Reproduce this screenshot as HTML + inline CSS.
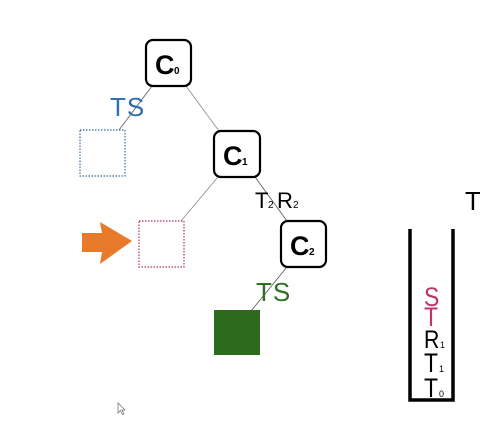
<!DOCTYPE html>
<html><head><meta charset="utf-8"><style>
html,body{margin:0;padding:0;background:#fff;}
svg{display:block;}
text{font-family:"Liberation Sans",sans-serif;}
</style></head><body>
<svg width="480" height="442" viewBox="0 0 480 442">
<g stroke-width="0.8">
<line x1="152" y1="86" x2="119" y2="130" stroke="#555"/>
<line x1="186" y1="86" x2="219" y2="131" stroke="#888"/>
<line x1="218" y1="177" x2="181" y2="221" stroke="#888"/>
<line x1="255" y1="177" x2="287" y2="221" stroke="#555"/>
<line x1="287" y1="267" x2="251" y2="311" stroke="#555"/>
</g>
<g>
<rect x="146" y="40" width="45" height="46" rx="7" fill="#fff" stroke="#000" stroke-width="2.2"/>
<text x="155" y="74" font-size="27" font-weight="bold">C</text><text x="174" y="74" font-size="10" font-weight="bold">0</text>
</g>
<g>
<rect x="214" y="131" width="46" height="46" rx="7" fill="#fff" stroke="#000" stroke-width="2.2"/>
<text x="223" y="165" font-size="27" font-weight="bold">C</text><text x="242" y="165" font-size="10" font-weight="bold">1</text>
</g>
<g>
<rect x="281" y="221" width="45" height="46" rx="7" fill="#fff" stroke="#000" stroke-width="2.2"/>
<text x="290" y="255" font-size="27" font-weight="bold">C</text><text x="309" y="255" font-size="10" font-weight="bold">2</text>
</g>
<text x="110" y="116" font-size="26" fill="#2f6fb0">T<tspan dx="1">S</tspan></text>
<rect x="80" y="130" width="45" height="46" fill="none" stroke="#2f6fb0" stroke-width="1.2" stroke-dasharray="1.5,1.5"/>
<g>
<text x="255" y="208" font-size="22">T</text><text x="268" y="208" font-size="10">2</text>
<text x="277" y="208" font-size="22">R</text><text x="293" y="208" font-size="10">2</text>
</g>
<rect x="139" y="221" width="45" height="46" fill="none" stroke="#b03060" stroke-width="1.2" stroke-dasharray="1.5,1.5"/>
<polygon points="82,233 102,233 100,222 132,241 100,264 102,252 82,252" fill="#e87a2c"/>
<text x="256" y="301" font-size="26" fill="#2e7022">T<tspan dx="1">S</tspan></text>
<rect x="214" y="310" width="46" height="45" fill="#2e6a1e"/>
<path d="M410,229 V400 H453 V229" fill="none" stroke="#000" stroke-width="3.5"/>
<g>
<text x="424" y="306" font-size="27" fill="#c0336b" transform="translate(424,0) scale(0.85,1) translate(-424,0)">S</text>
<text x="424" y="326" font-size="27" fill="#c0336b" transform="translate(424,0) scale(0.85,1) translate(-424,0)">T</text>
<text x="424" y="348" font-size="25" transform="translate(424,0) scale(0.85,1) translate(-424,0)">R</text><text x="440" y="348" font-size="9">1</text>
<text x="424" y="372" font-size="27" transform="translate(424,0) scale(0.85,1) translate(-424,0)">T</text><text x="439" y="372" font-size="9">1</text>
<text x="424" y="397" font-size="27" transform="translate(424,0) scale(0.85,1) translate(-424,0)">T</text><text x="439" y="397" font-size="9">0</text>
</g>
<text x="465" y="210" font-size="26">T</text>
<path d="M118,403 L118,413 L120.5,410.5 L122.5,414.5 L124,414 L122,410 L125,410 Z" fill="#fff" stroke="#666" stroke-width="0.7"/>
</svg>
</body></html>
